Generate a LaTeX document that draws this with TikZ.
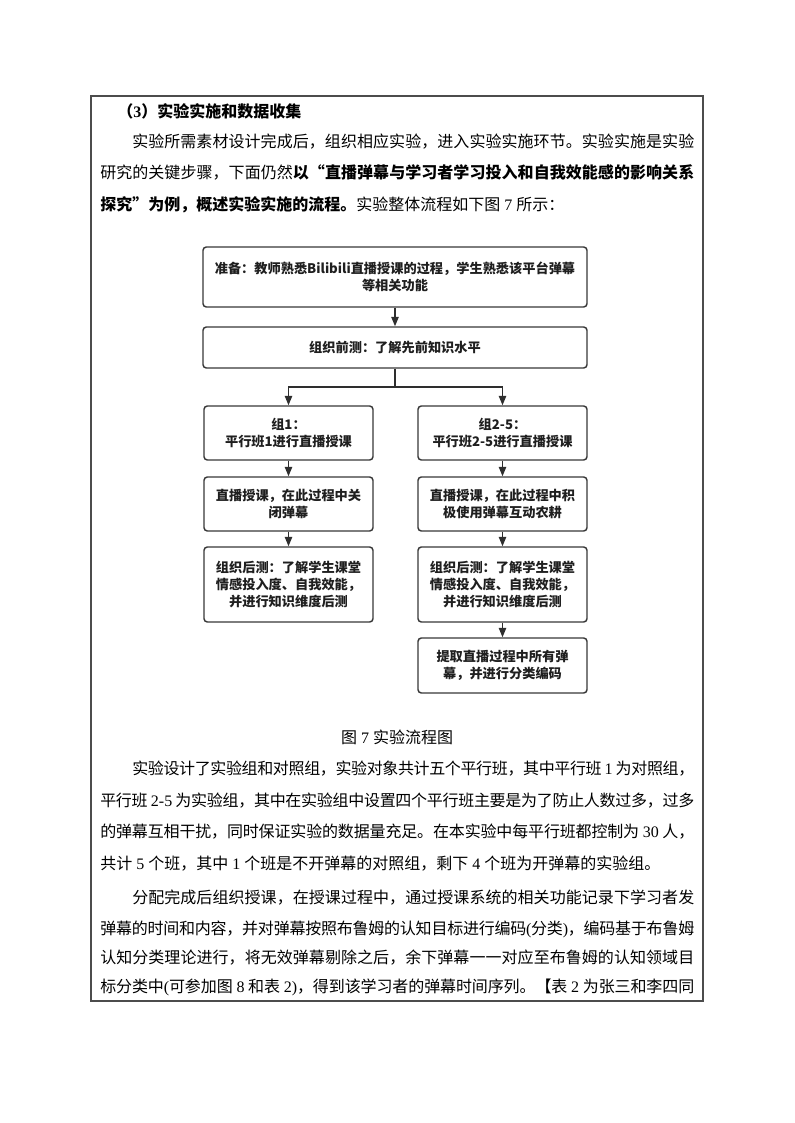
\documentclass[tikz,border=0pt]{standalone}
\usepackage{fontspec}
\setmainfont{Noto Sans CJK SC}
\newfontfamily\latserif{Liberation Serif}
\usetikzlibrary{arrows.meta}
\makeatletter
\newcommand\spreadtext[1]{\let\sp@first\relax\@tfor\sp@tok:=#1\do{\ifx\sp@first\@empty\hskip 0pt plus 1fil minus 0.6pt\fi\let\sp@first\@empty{\sp@tok}}}
\makeatother
\newcommand\lat{\latserif}
\tikzset{
  x=0.75pt, y=-0.75pt,
  body/.style={anchor=base west, inner sep=0pt, font=\fontsize{12pt}{14pt}\selectfont, text=black},
  flowbox/.style={draw=black!78, line width=1.1pt, rounded corners=2.5pt, fill=white,
    align=center, inner sep=2pt, text=black!88,
    font=\fontsize{9.9pt}{12.6pt}\selectfont\bfseries},
  wide/.style={flowbox, minimum width=288pt},
  col/.style={flowbox, minimum width=126.75pt},
  flow/.style={draw=black!82, line width=1pt},
  arr/.style={flow, -{Triangle[length=7pt,width=5.5pt]}},
}
\begin{document}
\begin{tikzpicture}
\useasboundingbox (0,0) rectangle (794,1123);
% frame
\draw[black!70, line width=0.9pt] (91,96) rectangle (703,1001);

% text before the chart
\node[body] (h) at (117,118) {\bfseries （{\lat\bfseries 3}）实验实施和数据收集};
\node[body] (t1) at (132,148) {\hbox to 421.5pt{\spreadtext{实验所需素材设计完成后，组织相应实验，进入实验实施环节。实验实施是实验}}};
\node[body] (t2) at (100,179) {\hbox to 445.5pt{\spreadtext{研究的关键步骤，下面仍然}\hskip 0pt plus 1fil minus 0.6pt\bfseries\spreadtext{以“直播弹幕与学习者学习投入和自我效能感的影响关系}}};
\node[body] (t3) at (100,211) {{\bfseries 探究”为例，概述实验实施的流程。}实验整体流程如下图{\lat\ 7 }所示：};

% flowchart
\node[wide, minimum height=45pt] (b1) at (395,277) {准备：教师熟悉Bilibili直播授课的过程，学生熟悉该平台弹幕\\等相关功能};
\node[wide, minimum height=30.75pt] (b2) at (395,347.5) {组织前测：了解先前知识水平};
\node[col, minimum height=40.5pt] (l1) at (288.5,433) {组1：\\平行班1进行直播授课};
\node[col, minimum height=40.5pt] (l2) at (288.5,504) {直播授课，在此过程中关\\闭弹幕};
\node[col, minimum height=56.25pt] (l3) at (288.5,584.5) {组织后测：了解学生课堂\\情感投入度、自我效能，\\并进行知识维度后测};
\node[col, minimum height=40.5pt] (r1) at (502.5,433) {组2-5：\\平行班2-5进行直播授课};
\node[col, minimum height=40.5pt] (r2) at (502.5,504) {直播授课，在此过程中积\\极使用弹幕互动农耕};
\node[col, minimum height=56.25pt] (r3) at (502.5,584.5) {组织后测：了解学生课堂\\情感投入度、自我效能，\\并进行知识维度后测};
\node[col, minimum height=41.25pt] (r4) at (502.5,665.5) {提取直播过程中所有弹\\幕，并进行分类编码};

\coordinate (split) at (395,387);
\draw[arr] (b1) -- (b2);
\draw[flow] (b2) -- (split);
\draw[arr] (split) -| (l1.north);
\draw[arr] (split) -| (r1.north);
\draw[arr] (l1) -- (l2);
\draw[arr] (l2) -- (l3);
\draw[arr] (r1) -- (r2);
\draw[arr] (r2) -- (r3);
\draw[arr] (r3) -- (r4);

% caption
\node[body, anchor=base] (cap) at (397,743) {图{\lat\ 7 }实验流程图};

% text after the chart
\node[body] (p1) at (132,774) {\hbox to 421.5pt{\spreadtext{实验设计了实验组和对照组，实验对象共计五个平行班，其中平行班{\lat\ 1 }为对照组，}}};
\node[body] (p2) at (100,806) {\hbox to 445.5pt{\spreadtext{平行班{\lat\ 2-5 }为实验组，其中在实验组中设置四个平行班主要是为了防止人数过多，过多}}};
\node[body] (p3) at (100,837) {\hbox to 445.5pt{\spreadtext{的弹幕互相干扰，同时保证实验的数据量充足。在本实验中每平行班都控制为{\lat\ 30 }人，}}};
\node[body] (p4) at (100,869) {共计{\lat\ 5 }个班，其中{\lat\ 1 }个班是不开弹幕的对照组，剩下{\lat\ 4 }个班为开弹幕的实验组。};
\node[body] (q1) at (132,903) {\hbox to 421.5pt{\spreadtext{分配完成后组织授课，在授课过程中，通过授课系统的相关功能记录下学习者发}}};
\node[body] (q2) at (100,934) {\hbox to 445.5pt{\spreadtext{弹幕的时间和内容，并对弹幕按照布鲁姆的认知目标进行编码{\lat(}分类{\lat)}，编码基于布鲁姆}}};
\node[body] (q3) at (100,963) {\hbox to 445.5pt{\spreadtext{认知分类理论进行，将无效弹幕剔除之后，余下弹幕一一对应至布鲁姆的认知领域目}}};
\node[body] (q4) at (100,992) {\hbox to 445.5pt{\spreadtext{标分类中{\lat(}可参加图{\lat\ 8 }和表{\lat\ 2)}，得到该学习者的弹幕时间序列。【表{\lat\ 2 }为张三和李四同}}};
\end{tikzpicture}
\end{document}
